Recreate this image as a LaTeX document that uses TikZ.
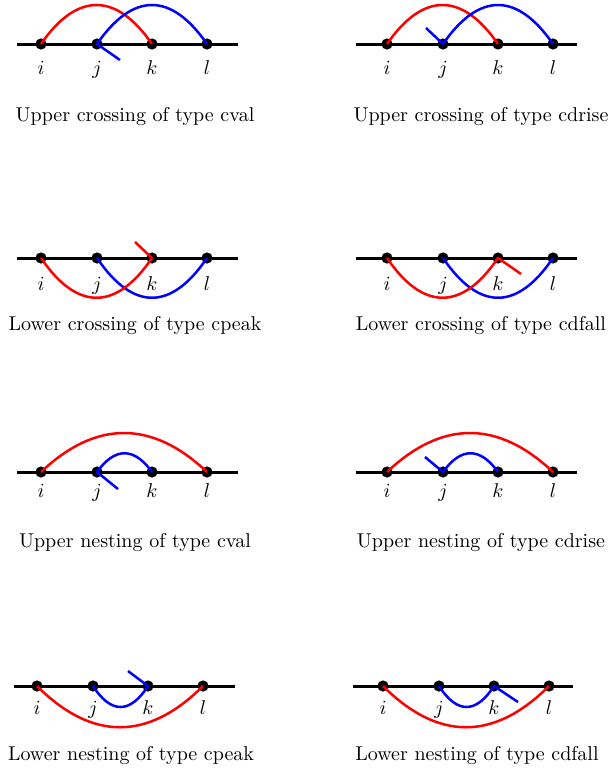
\documentclass[tikz,border=0pt]{standalone}
\begin{document}
\begin{tikzpicture}[x=0.5pt,y=-0.5pt]
\tikzset{
  baseline/.style={line width=1.5pt},
  dot/.style={circle, fill=black, inner sep=0pt, minimum size=5.6pt},
  arcr/.style={red, line width=1.25pt, line join=round},
  arcb/.style={blue, line width=1.25pt, line join=round},
  lab/.style={anchor=base, inner sep=0pt},
  capt/.style={anchor=base, inner sep=0pt}
}
% #1 name, #2 x, #3 y, #4 label offset, #5 caption offset, #6 caption, #7 line left, #8 line right, #9 extra
\newcommand\mkpanel[9]{%
  \begin{scope}[shift={(#2,#3)}]
    \coordinate (#1-L) at (#7,0);
    \coordinate (#1-R) at (#8,0);
    \draw[baseline] (#1-L) -- (#1-R);
    \node[dot] (#1-i) at (0,0) {};
    \node[dot] (#1-j) at (56,0) {};
    \node[dot] (#1-k) at (111,0) {};
    \node[dot] (#1-l) at (166,0) {};
    \node[lab] (#1-ti) at (0,#4) {$i$};
    \node[lab] (#1-tj) at (56,#4) {$j$};
    \node[lab] (#1-tk) at (111,#4) {$k$};
    \node[lab] (#1-tl) at (166,#4) {$l$};
    \node[capt] (#1-c) at (94,#5) {#6};
    #9
  \end{scope}}
\path[use as bounding box] (0,0) rectangle (610,771);

% Row 1
\mkpanel{A}{41}{44}{30}{77}{Upper crossing of type cval}{-24}{197}{%
  \coordinate (A-t) at (79,16);
  \draw[arcr] (A-i.center) .. controls +(36,-52) and +(-36,-52) .. (A-k.center);
  \draw[arcb] (A-t) -- (A-j.center) .. controls +(36,-52) and +(-36,-52) .. (A-l.center);
}
\mkpanel{B}{387}{44}{30}{77}{Upper crossing of type cdrise}{-31}{190}{%
  \coordinate (B-t) at (39,-16);
  \draw[arcr] (B-i.center) .. controls +(36,-52) and +(-36,-52) .. (B-k.center);
  \draw[arcb] (B-t) -- (B-j.center) .. controls +(36,-52) and +(-36,-52) .. (B-l.center);
}
% Row 2
\mkpanel{C}{41}{258}{32}{72}{Lower crossing of type cpeak}{-24}{197}{%
  \coordinate (C-t) at (94,-16);
  \draw[arcb] (C-j.center) .. controls +(36,53) and +(-36,53) .. (C-l.center);
  \draw[arcr] (C-i.center) .. controls +(36,53) and +(-36,53) .. (C-k.center) -- (C-t);
}
\mkpanel{D}{387}{258}{32}{72}{Lower crossing of type cdfall}{-31}{190}{%
  \coordinate (D-t) at (134,16);
  \draw[arcb] (D-j.center) .. controls +(36,53) and +(-36,53) .. (D-l.center);
  \draw[arcr] (D-i.center) .. controls +(36,53) and +(-36,53) .. (D-k.center) -- (D-t);
}
% Row 3
\mkpanel{E}{41}{472}{25}{75}{Upper nesting of type cval}{-24}{197}{%
  \coordinate (E-t) at (77,17);
  \draw[arcr] (E-i.center) .. controls +(55,-52) and +(-55,-52) .. (E-l.center);
  \draw[arcb] (E-t) -- (E-j.center) .. controls +(18,-25) and +(-18,-25) .. (E-k.center);
}
\mkpanel{F}{387}{472}{25}{75}{Upper nesting of type cdrise}{-31}{190}{%
  \coordinate (F-t) at (38,-15);
  \draw[arcr] (F-i.center) .. controls +(55,-52) and +(-55,-52) .. (F-l.center);
  \draw[arcb] (F-t) -- (F-j.center) .. controls +(18,-25) and +(-18,-25) .. (F-k.center);
}
% Row 4
\mkpanel{G}{37}{686}{28}{74}{Lower nesting of type cpeak}{-23}{198}{%
  \coordinate (G-t) at (91,-15);
  \draw[arcr] (G-i.center) .. controls +(55,55) and +(-55,55) .. (G-l.center);
  \draw[arcb] (G-j.center) .. controls +(18,28) and +(-18,28) .. (G-k.center) -- (G-t);
}
\mkpanel{H}{383}{686}{28}{74}{Lower nesting of type cdfall}{-30}{190}{%
  \coordinate (H-t) at (135,16);
  \draw[arcr] (H-i.center) .. controls +(55,55) and +(-55,55) .. (H-l.center);
  \draw[arcb] (H-j.center) .. controls +(18,28) and +(-18,28) .. (H-k.center) -- (H-t);
}
\end{tikzpicture}
\end{document}
